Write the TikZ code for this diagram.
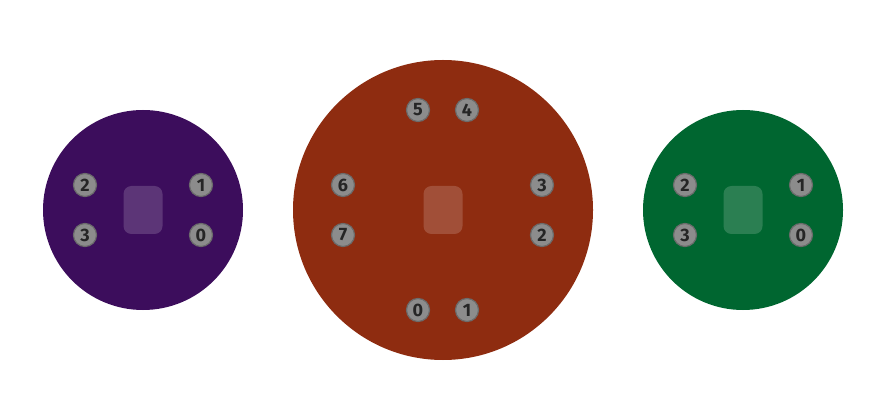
\documentclass[tikz,border=0pt]{standalone}
\usepackage{fontspec}
\setsansfont{Fira Sans}
\begin{document}
\begin{tikzpicture}[
  x=1pt, y=-1pt,
  board/.style={fill=#1, draw=none},
  pin/.style={circle, fill=black!45, draw=black!58, line width=1.2pt,
    minimum size=23pt, inner sep=0pt,
    font=\sffamily\bfseries\fontsize{18}{18}\selectfont, text=black!85},
  chip/.style={fill=white, fill opacity=0.17, rounded corners=8pt},
]
\definecolor{purpleboard}{HTML}{3C0D5C}
\definecolor{redboard}{HTML}{8E2C10}
\definecolor{greenboard}{HTML}{006630}
\useasboundingbox (0,0) rectangle (882,419);

% Left board
\fill[board=purpleboard] (143,210) circle[radius=100];
\fill[chip] (123.5,186) rectangle (162.5,234);
\foreach \n/\x/\y in {2/85/185, 1/201/185, 3/85/235, 0/201/235} {
  \node[pin] (l\n) at (\x,\y) {\n};
}

% Middle board
\fill[board=redboard] (443,210) circle[radius=150];
\fill[chip] (423.5,186) rectangle (462.5,234);
\foreach \n/\x/\y in {5/418/110, 4/467/110, 6/343/185, 3/542/185,
                      7/343/235, 2/542/235, 0/418/310, 1/467/310} {
  \node[pin] (m\n) at (\x,\y) {\n};
}

% Right board
\fill[board=greenboard] (743,210) circle[radius=100];
\fill[chip] (723.5,186) rectangle (762.5,234);
\foreach \n/\x/\y in {2/685/185, 1/801/185, 3/685/235, 0/801/235} {
  \node[pin] (r\n) at (\x,\y) {\n};
}

\end{tikzpicture}
\end{document}
